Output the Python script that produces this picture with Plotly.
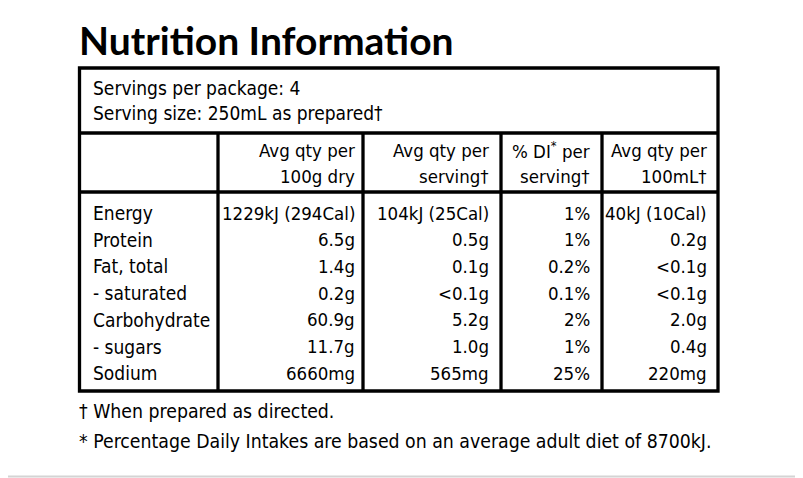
import plotly.graph_objects as go

title = "Nutrition Information"
servings_lines = ["Servings per package: 4", "Serving size: 250mL as prepared†"]
col_headers = [
    ["Avg qty per", "100g dry"],
    ["Avg qty per", "serving†"],
    ["% DI<sup>*</sup> per", "serving†"],
    ["Avg qty per", "100mL†"],
]
nutrients = ["Energy", "Protein", "Fat, total", "- saturated", "Carbohydrate", "- sugars", "Sodium"]
per_100g = ["1229kJ (294Cal)", "6.5g", "1.4g", "0.2g", "60.9g", "11.7g", "6660mg"]
per_serving = ["104kJ (25Cal)", "0.5g", "0.1g", "<0.1g", "5.2g", "1.0g", "565mg"]
pct_di = ["1%", "1%", "0.2%", "0.1%", "2%", "1%", "25%"]
per_100ml = ["40kJ (10Cal)", "0.2g", "<0.1g", "<0.1g", "2.0g", "0.4g", "220mg"]
footnotes = ["† When prepared as directed.",
             "* Percentage Daily Intakes are based on an average adult diet of 8700kJ."]

W, H = 803, 478
OFF = 8  # page body margin
BODY = "DejaVu Sans Condensed, Liberation Sans Narrow, sans-serif"
FS = 19
FS_CELL = 18.5
INK = "#000000"

# layout geometry (pixels)
box_l, box_r, box_t, box_b = 79.5, 718, 68, 391
h_lines = [133, 192]
v_lines = [218, 363, 501, 602]
col_right = [357, 491, 592, 709]
row_y0, row_dy = 213, 26.7

def esc(s):
    return s.replace("<", "&lt;").replace(">", "&gt;")

fig = go.Figure()
fig.add_trace(go.Scatter(x=[OFF, W], y=[OFF, H], mode="markers", marker=dict(opacity=0),
                         hoverinfo="skip", showlegend=False))

ann = []
def T(x, y, text, anchor="left", size=FS, family=BODY, weight="normal"):
    ann.append(dict(x=x, y=y, xref="x", yref="y", text=text, showarrow=False,
                    xanchor=anchor, yanchor="middle",
                    font=dict(family=family, size=size, color=INK, weight=weight)))

T(77, 40, title, size=39, family="Lato, Open Sans, sans-serif", weight="bold")
for i, s in enumerate(servings_lines):
    T(91, 88 + i * 25, s)
for c, hdr in enumerate(col_headers):
    for j, s in enumerate(hdr):
        T(col_right[c], 150 + j * 26, s, anchor="right", size=FS_CELL)
cols = [per_100g, per_serving, pct_di, per_100ml]
for i, n in enumerate(nutrients):
    y = row_y0 + i * row_dy
    T(91, y, n)
    for c, vals in enumerate(cols):
        T(col_right[c], y, esc(vals[i]), anchor="right", size=FS_CELL)
for i, s in enumerate(footnotes):
    T(77, 411 + i * 30, s, size=19.3)

shapes = [dict(type="rect", x0=box_l, x1=box_r, y0=box_t, y1=box_b, xref="x", yref="y",
               line=dict(color=INK, width=3.3))]
for y in h_lines:
    shapes.append(dict(type="line", x0=box_l, x1=box_r, y0=y, y1=y, xref="x", yref="y",
                       line=dict(color=INK, width=3.3)))
for x in v_lines:
    shapes.append(dict(type="line", x0=x, x1=x, y0=h_lines[0], y1=box_b, xref="x", yref="y",
                       line=dict(color=INK, width=3.3)))
shapes.append(dict(type="line", x0=OFF, x1=W + OFF, y0=476.5, y1=476.5, xref="x", yref="y",
                   line=dict(color="#d4d4d4", width=2)))

fig.update_layout(
    width=W, height=H, margin=dict(l=0, r=0, t=0, b=0),
    paper_bgcolor="white", plot_bgcolor="white",
    xaxis=dict(range=[OFF, W + OFF], visible=False, fixedrange=True),
    yaxis=dict(range=[H + OFF, OFF], visible=False, fixedrange=True),
    annotations=ann, shapes=shapes, showlegend=False,
)
fig.write_html("out.html", config={"displayModeBar": False})
